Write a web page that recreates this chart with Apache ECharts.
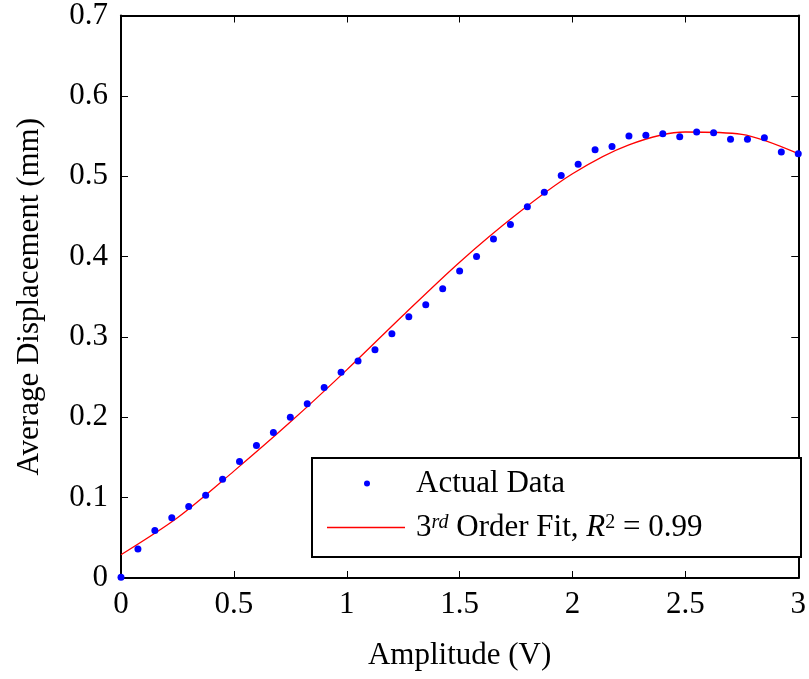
<!DOCTYPE html>
<html>
<head>
<meta charset="utf-8">
<script src="https://cdn.jsdelivr.net/npm/echarts@6/dist/echarts.min.js"></script>
<style>
html,body{margin:0;padding:0;background:#fff;}
#chart{width:809px;height:679px;}
</style>
</head>
<body>
<div id="chart"></div>
<script>
// Measured data (Amplitude V vs Average Displacement mm)
var amplitude = [0,0.075,0.15,0.225,0.3,0.375,0.45,0.525,0.6,0.675,0.75,0.825,0.9,0.975,1.05,1.125,1.2,1.275,1.35,1.425,1.5,1.575,1.65,1.725,1.8,1.875,1.95,2.025,2.1,2.175,2.25,2.325,2.4,2.475,2.55,2.625,2.7,2.775,2.85,2.925,3.0];
var displacement = [0.001,0.036,0.059,0.075,0.089,0.103,0.123,0.145,0.165,0.181,0.200,0.217,0.237,0.256,0.270,0.284,0.304,0.325,0.340,0.360,0.382,0.400,0.422,0.440,0.462,0.480,0.501,0.515,0.533,0.537,0.550,0.551,0.553,0.549,0.555,0.554,0.546,0.546,0.548,0.530,0.528];
// 3rd order fit curve
var fitX = [0,0.25,0.5,0.75,1.0,1.25,1.5,1.75,2.0,2.25,2.5,2.75,3.0];
var fitY = [0.029,0.075,0.133,0.194,0.259,0.327,0.393,0.452,0.503,0.539,0.555,0.552,0.528];
var xTicks = {min:0, max:3, interval:0.5};
var yTicks = {min:0, max:0.7, interval:0.1};
var seriesNames = ['Actual Data', '3rd Order Fit'];

var FONT = '"Liberation Serif", "Times New Roman", serif';
var FS = 31;

var scatterData = amplitude.map(function(x,i){return [x, displacement[i]];});
var fitData = fitX.map(function(x,i){return [x, fitY[i]];});

var chart = echarts.init(document.getElementById('chart'), null, {renderer:'canvas'});
var axisLine = {show:true, onZero:false, lineStyle:{color:'#000', width:2}};
var tick = {show:true, inside:true, length:7, lineStyle:{color:'#000', width:1}};
chart.setOption({
  backgroundColor:'#fff',
  animation:false,
  grid:{left:121, top:13, right:8, bottom:101, containLabel:false},
  xAxis:[{
    type:'value', position:'bottom', min:xTicks.min, max:xTicks.max, interval:xTicks.interval,
    axisLine:axisLine, axisTick:tick, splitLine:{show:false},
    axisLabel:{color:'#000', fontFamily:FONT, fontSize:FS, margin:11},
    name:'Amplitude (V)', nameLocation:'middle', nameGap:62,
    nameTextStyle:{color:'#000', fontFamily:FONT, fontSize:FS}
  },{
    type:'value', position:'top', min:xTicks.min, max:xTicks.max, interval:xTicks.interval,
    axisLine:axisLine, axisTick:tick, axisLabel:{show:false}, splitLine:{show:false}
  }],
  yAxis:[{
    type:'value', position:'left', min:yTicks.min, max:yTicks.max, interval:yTicks.interval,
    axisLine:axisLine, axisTick:tick, splitLine:{show:false},
    axisLabel:{color:'#000', fontFamily:FONT, fontSize:FS, margin:13},
    name:'Average Displacement (mm)', nameLocation:'middle', nameGap:76,
    nameTextStyle:{color:'#000', fontFamily:FONT, fontSize:FS}
  },{
    type:'value', position:'right', min:yTicks.min, max:yTicks.max, interval:yTicks.interval,
    axisLine:axisLine, axisTick:tick, axisLabel:{show:false}, splitLine:{show:false}
  }],
  graphic:[{
    type:'rect', z:10, left:311, top:457,
    shape:{width:489, height:99},
    style:{fill:'#fff', stroke:'#000', lineWidth:2}
  }],
  legend:[{
    z:20, left:364, top:468, padding:0, orient:'vertical',
    itemWidth:6, itemHeight:6, icon:'circle',
    data:[{name:seriesNames[0], icon:'circle', itemStyle:{color:'#0000ff'}}],
    textStyle:{color:'#000', fontFamily:FONT, fontSize:FS, lineHeight:30, padding:[0,0,0,41]},
    selectedMode:false
  },{
    z:20, left:327, top:512, padding:0, orient:'vertical',
    itemWidth:78, itemHeight:1.5, icon:'rect',
    data:[{name:seriesNames[1], icon:'rect', itemStyle:{color:'#ff0000'}}],
    formatter:function(){return '{a|3}{s|rd}{a| Order Fit, }{i|R}{t|2}{a| = 0.99}';},
    textStyle:{color:'#000', fontFamily:FONT, fontSize:FS, lineHeight:30, padding:[0,0,0,6],
      rich:{
        a:{fontFamily:FONT, fontSize:FS, lineHeight:30, color:'#000'},
        s:{fontFamily:FONT, fontSize:20, fontStyle:'italic', lineHeight:18, verticalAlign:'top', color:'#000'},
        i:{fontFamily:FONT, fontSize:FS, fontStyle:'italic', lineHeight:30, color:'#000'},
        t:{fontFamily:FONT, fontSize:20, lineHeight:18, verticalAlign:'top', color:'#000'}
      }},
    selectedMode:false
  }],
  series:[{
    name:seriesNames[0], type:'scatter', data:scatterData, clip:false,
    symbol:'circle', symbolSize:7, itemStyle:{color:'#0000ff', opacity:1}, z:3
  },{
    name:seriesNames[1], type:'line', data:fitData, smooth:0.3,
    showSymbol:false, symbol:'none', lineStyle:{color:'#ff0000', width:1.3}, z:2
  }]
});
</script>
</body>
</html>
